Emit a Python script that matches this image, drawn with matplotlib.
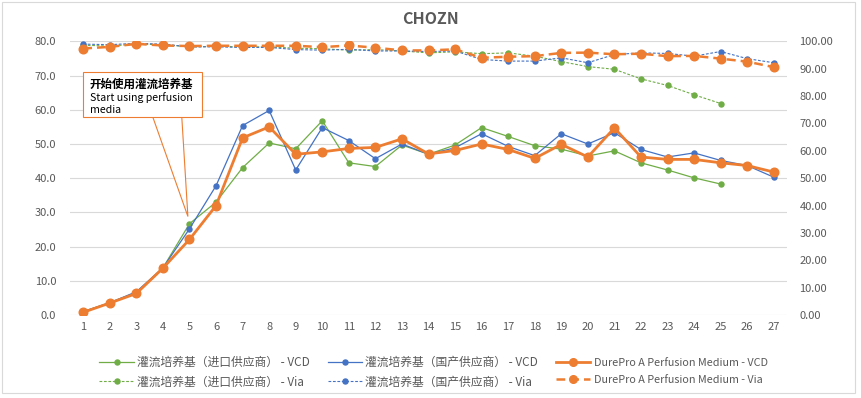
import matplotlib.pyplot as plt
from matplotlib.lines import Line2D
from matplotlib.patches import Polygon, Rectangle

plt.rcParams['font.family'] = ['Noto Sans CJK SC', 'DejaVu Sans']

days = list(range(1, 28))

# VCD (left axis)
vcd_import = [1.0, 3.6, 6.6, 13.8, 26.7, 33.0, 43.1, 50.3, 48.6, 56.8, 44.5, 43.4, 49.7,
              47.0, 49.7, 54.8, 52.2, 49.5, 48.5, 46.5, 48.0, 44.5, 42.4, 40.1, 38.3]
vcd_domestic = [1.0, 3.6, 6.8, 13.8, 25.2, 37.8, 55.4, 59.8, 42.4, 54.8, 51.0, 45.7, 50.0,
                47.0, 48.9, 53.0, 49.3, 46.6, 53.0, 50.0, 53.3, 48.4, 46.2, 47.4, 45.2, 43.7, 40.3]
vcd_durepro = [0.8, 3.5, 6.3, 13.7, 22.1, 32.0, 51.8, 55.0, 47.0, 47.7, 48.7, 49.0, 51.5,
               47.1, 48.1, 50.0, 48.4, 45.8, 49.9, 46.2, 54.7, 46.2, 45.5, 45.5, 44.5, 43.7, 41.8]

# viability (right axis)
via_import = [98.6, 98.3, 99.0, 98.8, 98.0, 98.2, 98.0, 98.0, 97.5, 97.3, 96.8, 97.0, 96.5,
              95.8, 96.2, 95.5, 95.8, 94.6, 92.6, 90.8, 89.8, 86.3, 83.9, 80.5, 77.3]
via_domestic = [99.0, 98.8, 99.3, 99.0, 98.0, 98.0, 97.8, 97.8, 97.0, 96.8, 97.1, 96.5, 96.5,
                96.3, 96.5, 93.4, 92.8, 92.8, 94.0, 92.2, 95.2, 95.8, 95.6, 94.6, 96.3, 93.7, 92.2]
via_durepro = [97.4, 98.0, 99.1, 98.5, 98.3, 98.4, 98.4, 98.4, 98.4, 97.9, 98.5, 97.7, 96.7,
               96.7, 97.1, 94.0, 94.4, 94.6, 95.8, 95.9, 95.3, 95.5, 94.6, 94.7, 93.7, 92.6, 90.6]

GREEN = '#70AD47'
BLUE = '#4472C4'
ORANGE = '#ED7D31'
GREY = '#595959'
DOT = (0, (2.5, 1.5))
DASH = (0, (3.5, 2))

fig = plt.figure(figsize=(8.62, 3.98), dpi=100)
fig.patches.append(Rectangle((0.002, 0.012), 0.99, 0.983, transform=fig.transFigure,
                             fill=False, edgecolor='#D9D9D9', linewidth=0.8))
ax = fig.add_axes([0.0812, 0.2085, 0.8318, 0.6875])
ax2 = ax.twinx()

ax.plot(days[:len(vcd_import)], vcd_import, color=GREEN, lw=0.9, marker='o', ms=3.6, zorder=3)
ax.plot(days, vcd_domestic, color=BLUE, lw=0.9, marker='o', ms=3.6, zorder=4)
ax.plot(days, vcd_durepro, color=ORANGE, lw=2.0, marker='o', ms=6.2, zorder=5)

ax2.plot(days[:len(via_import)], via_import, color=GREEN, lw=0.8, ls=DOT, marker='o', ms=3.6)
ax2.plot(days, via_domestic, color=BLUE, lw=0.8, ls=DOT, marker='o', ms=3.6)
ax2.plot(days, via_durepro, color=ORANGE, lw=1.8, ls=DASH, marker='o', ms=6.2)

ax.set_xlim(0.5, 27.5)
ax.set_ylim(0, 80)
ax2.set_ylim(0, 100)
ax.set_yticks(range(0, 81, 10))
ax.set_yticklabels([f'{v:.1f}' for v in range(0, 81, 10)])
ax2.set_yticks(range(0, 101, 10))
ax2.set_yticklabels([f'{v:.2f}' for v in range(0, 101, 10)])
ax.set_xticks(days)
ax.set_xticklabels([str(d) for d in days])

ax.grid(axis='y', color='#D9D9D9', lw=0.8)
ax.set_axisbelow(True)
for a in (ax, ax2):
    for s in a.spines.values():
        s.set_visible(False)
ax.tick_params(axis='y', length=0, pad=10, labelsize=8, labelcolor=GREY)
ax.tick_params(axis='x', length=0, pad=5, labelsize=8, labelcolor=GREY)
ax2.tick_params(axis='y', length=0, pad=9, labelsize=8, labelcolor=GREY)

fig.text(0.50, 0.952, 'CHOZN', ha='center', va='center', fontsize=11.5,
         fontweight='bold', color=GREY)

# callout box
ax2.add_patch(Polygon([(3.62, 72.3), (4.71, 72.3), (4.94, 36.0)], closed=True,
                      facecolor='white', edgecolor=ORANGE, lw=0.8, zorder=10))
ax2.add_patch(Rectangle((1.0, 72.3), 4.48, 16.5, facecolor='white', edgecolor=ORANGE,
                        lw=0.8, zorder=11))
ax2.text(1.25, 86.6, '开始使用灌流培养基', fontsize=8.3, fontweight='bold', va='top',
         color='black', zorder=12)
ax2.text(1.25, 81.6, 'Start using perfusion\nmedia', fontsize=7.6, va='top',
         color='black', linespacing=1.35, zorder=12)

handles = [
    Line2D([], [], color=GREEN, lw=0.9, marker='o', ms=3.6),
    Line2D([], [], color=GREEN, lw=0.8, ls=DOT, marker='o', ms=3.6),
    Line2D([], [], color=BLUE, lw=0.9, marker='o', ms=3.6),
    Line2D([], [], color=BLUE, lw=0.8, ls=DOT, marker='o', ms=3.6),
    Line2D([], [], color=ORANGE, lw=2.0, marker='o', ms=5.5),
    Line2D([], [], color=ORANGE, lw=1.8, ls=DASH, marker='o', ms=5.5),
]
labels = [
    '灌流培养基（进口供应商） - VCD', '灌流培养基（进口供应商） - Via',
    '灌流培养基（国产供应商） - VCD', '灌流培养基（国产供应商） - Via',
    'DurePro A Perfusion Medium - VCD', 'DurePro A Perfusion Medium - Via',
]
leg = fig.legend(handles, labels, ncol=3, loc='center', bbox_to_anchor=(0.503, 0.065),
                 frameon=False, fontsize=8.5, handlelength=2.9, handletextpad=0.3,
                 columnspacing=1.5, labelspacing=0.55)
for i, t in enumerate(leg.get_texts()):
    t.set_color(GREY)
    if i >= 4:
        t.set_fontsize(7.8)

fig.savefig('out.png', dpi=100)
